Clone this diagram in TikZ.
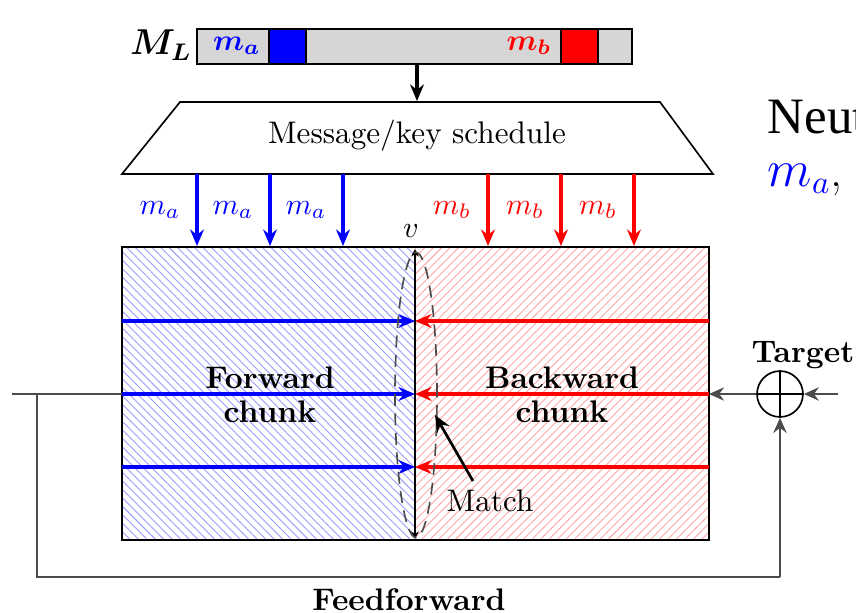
\documentclass[tikz,border=0pt]{standalone}
\usepackage{fontspec}
\usepackage{amsmath,bm}
\newfontfamily\slidefont{Liberation Serif}
\usetikzlibrary{arrows.meta,patterns.meta}
\begin{document}
\begin{tikzpicture}[x=0.3333pt,y=-0.3333pt,
  thinbox/.style={draw=black,line width=0.55pt},
  arr/.style={line width=1.05pt,-{Stealth[length=5.5pt,width=4.6pt]}},
  ffline/.style={draw=black!70,line width=0.95pt},
  lbl/.style={inner sep=0pt,font=\fontsize{10.4}{12.5}\selectfont}]
\useasboundingbox (0,0) rectangle (856,613);
\clip (0,0) rectangle (856,613);
% message bar
\draw[thinbox,fill=black!16] (197,29) rectangle (632,64);
\draw[thinbox,fill=blue] (269,29) rectangle (306,64);
\draw[thinbox,fill=red] (561,29) rectangle (598,64);
\node[lbl] (ML) at (161,45) {\fontsize{11.5}{13}\selectfont$\bm{M_L}$};
\node[lbl,text=blue] (mabar) at (237,46) {$\bm{m_a}$};
\node[lbl,text=red] (mbbar) at (529,46) {$\bm{m_b}$};
\coordinate (barout) at (417,64);
% trapezium
\draw[thinbox,fill=white] (180,102) -- (660,102) -- (713,174) -- (122,174) -- cycle;
\coordinate (schin) at (417,101);
\node[lbl] (sched) at (417,136) {Message/key schedule};
\draw[arr] (barout) -- (schin);
% box halves
\fill[pattern={Lines[angle=-45,distance=2pt,line width=0.3pt]},pattern color=blue!40] (122,247) rectangle (415,540);
\fill[pattern={Lines[angle=45,distance=2pt,line width=0.3pt]},pattern color=red!35] (415,247) rectangle (709,540);
\draw[thinbox] (122,247) rectangle (709,540);
\node[lbl,font=\fontsize{10.4}{12.5}\selectfont\bfseries,align=center] (fwd) at (270,395) {Forward\\[-1pt]chunk};
\node[lbl,font=\fontsize{10.4}{12.5}\selectfont\bfseries,align=center] (bwd) at (562,395) {Backward\\[-1pt]chunk};
% message word arrows
\foreach \x/\n in {197/1,270/2,343/3}{
  \coordinate (sa\n) at (\x,174);
  \coordinate (ba\n) at (\x,246);
  \draw[arr,blue] (sa\n) -- (ba\n);
  \node[lbl,text=blue] (la\n) at (\x-37,210) {$m_a$};
}
\foreach \x/\n in {488/1,561/2,634/3}{
  \coordinate (sb\n) at (\x,174);
  \coordinate (bb\n) at (\x,246);
  \draw[arr,red] (sb\n) -- (bb\n);
  \node[lbl,text=red] (lb\n) at (\x-36,210) {$m_b$};
}
% horizontal chunk arrows
\foreach \y/\n in {321/1,394/2,467/3}{
  \coordinate (L\n) at (122,\y);
  \coordinate (M\n) at (415,\y);
  \coordinate (R\n) at (709,\y);
  \draw[arr,red] (R\n) -- (M\n);
  \draw[arr,blue] (L\n) -- (M\n);
}
% v line
\coordinate (vtop) at (415,249);
\coordinate (vbot) at (415,539);
\draw[line width=0.5pt,{Stealth[length=2.5pt,width=2.5pt]}-{Stealth[length=2.5pt,width=2.5pt]}] (vtop) -- (vbot);
\node[lbl] (v) at (411,231) {$v$};
\draw[black!70,line width=0.55pt,dash pattern=on 4pt off 2.5pt] (416,395) ellipse [x radius=7pt,y radius=47.5pt];
% match
\node[lbl] (match) at (490,501) {Match};
\coordinate (mtip) at (435,415);
\draw[line width=0.9pt,-{Stealth[length=5.5pt,width=4.6pt]}] (473,481) -- (mtip);
% target
\node[draw=black,line width=0.55pt,circle,minimum size=15.3pt,inner sep=0pt] (xor) at (780,394) {};
\draw[line width=0.55pt] (xor.north) -- (xor.south) (xor.west) -- (xor.east);
\node[lbl,font=\fontsize{10.4}{12.5}\selectfont\bfseries] (target) at (803,355) {Target};
\coordinate (tin) at (838,394);
\draw[ffline,-{Stealth[length=5pt,width=4.4pt]}] (tin) -- (xor.east);
\draw[ffline,-{Stealth[length=5pt,width=4.4pt]}] (xor.west) -- (R2);
% feedforward
\coordinate (stub) at (12,394);
\coordinate (fa) at (37,394);
\coordinate (fb) at (37,577);
\coordinate (fc) at (780,577);
\draw[ffline] (stub) -- (L2);
\draw[ffline] (fa) -- (fb) -- (fc);
\draw[ffline,-{Stealth[length=5pt,width=4.4pt]}] (fc) -- (xor.south);
\node[lbl,font=\fontsize{10.4}{12.5}\selectfont\bfseries] (ff) at (409,600) {Feedforward};
% slide text
\node[inner sep=0pt,anchor=base west] (neut) at (767,133) {\slidefont\fontsize{17}{19}\selectfont Neut};
\node[inner sep=0pt,anchor=base west] (mslide) at (767,186) {\fontsize{16}{19}\selectfont\color{blue}$m_a$\color{black},};
\end{tikzpicture}
\end{document}
